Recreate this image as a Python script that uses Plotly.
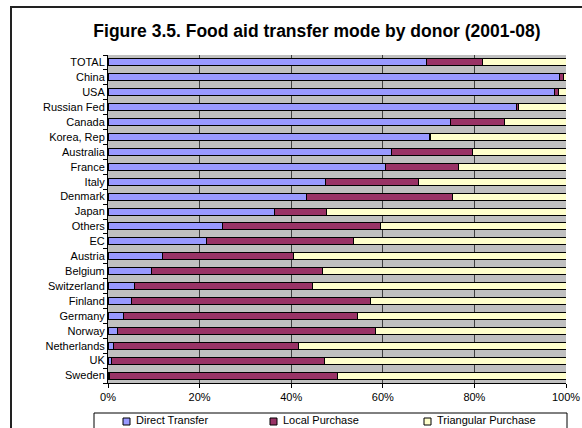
import plotly.graph_objects as go

donors = ["TOTAL", "China", "USA", "Russian Fed", "Canada", "Korea, Rep", "Australia",
          "France", "Italy", "Denmark", "Japan", "Others", "EC", "Austria", "Belgium",
          "Switzerland", "Finland", "Germany", "Norway", "Netherlands", "UK", "Sweden"]
direct_transfer = [69.6, 98.6, 97.5, 89.1, 74.7, 70.2, 61.9, 60.5, 47.5, 43.3, 36.3, 25.0,
                   21.5, 11.8, 9.5, 5.8, 5.2, 3.3, 2.1, 1.1, 0.7, 0.4]
local_purchase = [12.2, 0.8, 0.9, 0.5, 11.9, 0.2, 17.7, 16.1, 20.4, 32.0, 11.5, 34.5,
                  32.2, 28.6, 37.3, 38.9, 52.2, 51.2, 56.2, 40.4, 46.6, 49.6]
triangular_purchase = [18.2, 0.6, 1.6, 10.4, 13.4, 29.6, 20.4, 23.4, 32.1, 24.7, 52.2, 40.5,
                       46.3, 59.6, 53.2, 55.3, 42.6, 45.5, 41.7, 58.5, 52.7, 50.0]
x_ticks = [0, 20, 40, 60, 80, 100]
x_tick_labels = ["0%", "20%", "40%", "60%", "80%", "100%"]

series = [("Direct Transfer", direct_transfer, "#9999FF"),
          ("Local Purchase", local_purchase, "#993366"),
          ("Triangular Purchase", triangular_purchase, "#FFFFCC")]

W, H = 582, 428
L, R, T, B = 108, 16, 55, 45
PW, PH = W - L - R, H - T - B


def px_x(x):
    return (x - L) / PW


def px_y(y):
    return (H - B - y) / PH


fig = go.Figure()
for name, vals, color in series:
    fig.add_trace(go.Bar(
        y=donors, x=vals, name=name, orientation="h",
        marker=dict(color=color, line=dict(color="#000000", width=1)),
        showlegend=False,
    ))

font = "Liberation Sans, Arial, sans-serif"

# outer chart border
shapes = [dict(type="rect", xref="paper", yref="paper",
               x0=px_x(11), x1=px_x(600), y0=px_y(450), y1=px_y(7),
               line=dict(color="#222222", width=2), fillcolor="rgba(0,0,0,0)",
               layer="below"),
          # legend box
          dict(type="rect", xref="paper", yref="paper",
               x0=px_x(94), x1=px_x(567), y0=px_y(440), y1=px_y(413),
               line=dict(color="#000000", width=1), fillcolor="white",
               layer="below")]
annotations = []
legend_x = [123, 270, 424]
for (name, _, color), lx in zip(series, legend_x):
    shapes.append(dict(type="rect", xref="paper", yref="paper",
                       x0=px_x(lx), x1=px_x(lx + 7), y0=px_y(425), y1=px_y(418),
                       line=dict(color="#000000", width=1), fillcolor=color))
    annotations.append(dict(text=name, xref="paper", yref="paper",
                            x=px_x(lx + 11), y=px_y(427.5), xanchor="left", yanchor="bottom",
                            showarrow=False, font=dict(family=font, size=11, color="#000000")))

fig.update_layout(
    width=W, height=H,
    margin=dict(l=L, r=R, t=T, b=B, autoexpand=False),
    barmode="stack", bargap=0.53,
    paper_bgcolor="white", plot_bgcolor="#C0C0C0",
    font=dict(family=font, size=11, color="#000000"),
    title=dict(text="<b>Figure 3.5. Food aid transfer mode by donor (2001-08)</b>",
               x=317 / W, xref="container", xanchor="center",
               y=1 - 31 / H, yref="container", yanchor="middle",
               font=dict(family=font, size=17.5, color="#000000")),
    showlegend=False,
    xaxis=dict(range=[0, 100], tickmode="array", tickvals=x_ticks, ticktext=x_tick_labels,
               showgrid=True, gridcolor="#404040", gridwidth=1,
               showline=True, linecolor="#000000", linewidth=1,
               ticks="outside", ticklen=4, tickcolor="#000000",
               zeroline=False, fixedrange=True),
    yaxis=dict(categoryorder="array", categoryarray=donors, autorange="reversed",
               tickmode="array", tickvals=donors, ticktext=donors,
               showgrid=False, showline=True, linecolor="#000000", linewidth=1,
               ticks="outside", ticklen=4, tickcolor="#000000", tickson="boundaries",
               fixedrange=True),
    shapes=shapes,
    annotations=annotations,
)

fig.write_html("out.html", config={"displayModeBar": False},
               post_script="document.body.style.margin='0';document.body.style.overflow='hidden';")
